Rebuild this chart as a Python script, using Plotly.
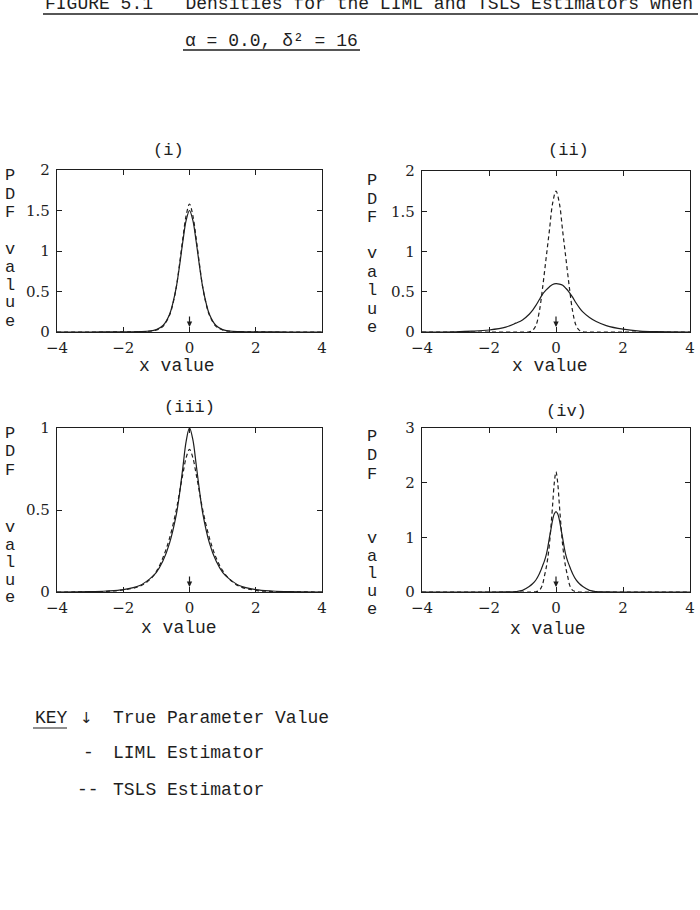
import plotly.graph_objects as go

# ---------------- data ----------------
true_value = 0.0

x_i = [-4, -3, -2, -1.5, -1.2, -1.0, -0.8, -0.6, -0.5, -0.4, -0.3, -0.2, -0.1, 0.0,
       0.1, 0.2, 0.3, 0.4, 0.5, 0.6, 0.8, 1.0, 1.2, 1.5, 2, 3, 4]
liml_i = [0, 0, 0.002, 0.005, 0.012, 0.03, 0.08, 0.22, 0.36, 0.55, 0.82, 1.12, 1.38, 1.50,
          1.38, 1.12, 0.82, 0.55, 0.36, 0.22, 0.08, 0.03, 0.012, 0.005, 0.002, 0, 0]
tsls_i = [0, 0, 0.001, 0.004, 0.01, 0.025, 0.07, 0.21, 0.35, 0.55, 0.84, 1.16, 1.44, 1.58,
          1.44, 1.16, 0.84, 0.55, 0.35, 0.21, 0.07, 0.025, 0.01, 0.004, 0.001, 0, 0]

x_ii = [-4, -3, -2.5, -2, -1.5, -1.2, -1.0, -0.8, -0.7, -0.6, -0.5, -0.4, -0.3, -0.2, -0.1, 0,
        0.1, 0.2, 0.3, 0.4, 0.5, 0.6, 0.7, 0.8, 1.0, 1.2, 1.5, 2, 2.5, 3, 4]
liml_ii = [0, 0.003, 0.01, 0.025, 0.06, 0.11, 0.15, 0.22, 0.27, 0.33, 0.40, 0.47, 0.52, 0.56, 0.59, 0.60,
           0.595, 0.58, 0.54, 0.49, 0.43, 0.36, 0.30, 0.25, 0.18, 0.13, 0.08, 0.035, 0.012, 0.004, 0]
tsls_ii = [0, 0, 0, 0, 0, 0, 0, 0.003, 0.02, 0.08, 0.25, 0.55, 0.9, 1.25, 1.6, 1.75,
           1.6, 1.25, 0.9, 0.55, 0.25, 0.08, 0.02, 0.003, 0, 0, 0, 0, 0, 0, 0]

x_iii = [-4, -3, -2.5, -2, -1.5, -1.2, -1.0, -0.8, -0.6, -0.4, -0.3, -0.2, -0.1, 0,
         0.1, 0.2, 0.3, 0.4, 0.6, 0.8, 1.0, 1.2, 1.5, 2, 2.5, 3, 4]
liml_iii = [0, 0.002, 0.006, 0.015, 0.04, 0.08, 0.12, 0.19, 0.30, 0.47, 0.60, 0.76, 0.92, 1.0,
            0.93, 0.78, 0.62, 0.48, 0.30, 0.19, 0.12, 0.08, 0.04, 0.015, 0.006, 0.002, 0]
tsls_iii = [0, 0.001, 0.004, 0.012, 0.035, 0.075, 0.125, 0.21, 0.33, 0.50, 0.61, 0.72, 0.82, 0.87,
            0.82, 0.72, 0.61, 0.50, 0.33, 0.21, 0.13, 0.08, 0.035, 0.01, 0.003, 0.001, 0]

x_iv = [-4, -2, -1.5, -1.2, -1.0, -0.8, -0.7, -0.6, -0.5, -0.45, -0.4, -0.35, -0.3, -0.25, -0.2,
        -0.15, -0.1, -0.05, 0, 0.05, 0.1, 0.15, 0.2, 0.25, 0.3, 0.35, 0.4, 0.45, 0.5, 0.6, 0.7,
        0.8, 1.0, 1.2, 1.5, 2, 4]
liml_iv = [0, 0, 0.002, 0.008, 0.03, 0.1, 0.15, 0.22, 0.33, 0.40, 0.48, 0.56, 0.66, 0.80, 0.98,
           1.15, 1.32, 1.43, 1.47, 1.43, 1.32, 1.15, 0.98, 0.80, 0.66, 0.56, 0.48, 0.40, 0.33, 0.22, 0.15,
           0.1, 0.03, 0.008, 0.002, 0, 0]
tsls_iv = [0, 0, 0, 0, 0, 0, 0, 0.005, 0.03, 0.07, 0.14, 0.28, 0.42, 0.6, 0.85,
           1.2, 1.6, 2.0, 2.2, 2.0, 1.6, 1.2, 0.85, 0.6, 0.42, 0.28, 0.14, 0.07, 0.03, 0.005, 0,
           0, 0, 0, 0, 0, 0]

x_ticks = [-4, -2, 0, 2, 4]
x_ticktext = ["\u22124", "\u22122", "0", "2", "4"]
yt_i = [0, 0.5, 1, 1.5, 2]
yt_i_text = ["0", "0.5", "1", "1.5", "2"]
yt_iii = [0, 0.5, 1]
yt_iii_text = ["0", "0.5", "1"]
yt_iv = [0, 1, 2, 3]
yt_iv_text = ["0", "1", "2", "3"]

panel_titles = ["(i)", "(ii)", "(iii)", "(iv)"]
ylabel_letters = ["P", "D", "F", "", "v", "a", "l", "u", "e"]
title_line1 = "FIGURE 5.1   Densities for the LIML and TSLS Estimators when"
title_line2 = "\u03b1 = 0.0, \u03b4\u00b2 = 16"
key_lines = ["True Parameter Value", "LIML Estimator", "TSLS Estimator"]

# ---------------- layout helpers ----------------
W, H = 700, 910
def fx(p): return p / W
def fy(p): return 1 - p / H

MONO = "Liberation Mono, Courier New, monospace"
SERIF = "DejaVu Serif, serif"
INK = "#1e1e1e"

panels = [
    dict(x=x_i, liml=liml_i, tsls=tsls_i, yt=yt_i, ytt=yt_i_text, ymax=2,
         px=(57, 322), py=(170, 332), title=(168, 151), xlab=(177, 366),
         ylab_x=10, ylab_y=[176, 194, 212, None, 249, 267, 285, 303, 321]),
    dict(x=x_ii, liml=liml_ii, tsls=tsls_ii, yt=yt_i, ytt=yt_i_text, ymax=2,
         px=(422, 690), py=(171, 332), title=(568, 151), xlab=(550, 366),
         ylab_x=372, ylab_y=[181, 199, 217, None, 253, 272, 290, 309, 327]),
    dict(x=x_iii, liml=liml_iii, tsls=tsls_iii, yt=yt_iii, ytt=yt_iii_text, ymax=1,
         px=(57, 322), py=(428, 592), title=(189, 408), xlab=(179, 628),
         ylab_x=10, ylab_y=[433, 451, 470, None, 527, 545, 562, 580, 597]),
    dict(x=x_iv, liml=liml_iv, tsls=tsls_iv, yt=yt_iv, ytt=yt_iv_text, ymax=3,
         px=(422, 690), py=(428, 592), title=(566, 412), xlab=(548, 629),
         ylab_x=372, ylab_y=[436, 455, 474, None, 538, 556, 573, 591, 609]),
]

fig = go.Figure()
annotations = []
shapes = []
layout = {}

for i, p in enumerate(panels):
    k = "" if i == 0 else str(i + 1)
    xa, ya = "x" + k, "y" + k
    fig.add_trace(go.Scatter(x=p["x"], y=p["liml"], mode="lines", xaxis=xa, yaxis=ya,
                             line=dict(color=INK, width=1.2), showlegend=False,
                             line_shape="spline"))
    fig.add_trace(go.Scatter(x=p["x"], y=p["tsls"], mode="lines", xaxis=xa, yaxis=ya,
                             line=dict(color=INK, width=1.2, dash="4px,3px"), showlegend=False,
                             line_shape="spline"))
    axis_common = dict(showline=True, mirror="ticks", linecolor=INK, linewidth=1.3,
                       ticks="inside", ticklen=5, tickwidth=1.2, tickcolor=INK,
                       showgrid=False, zeroline=False, fixedrange=True, automargin=False,
                       tickfont=dict(family=SERIF, size=15, color=INK))
    layout["xaxis" + k] = dict(axis_common, domain=[fx(p["px"][0]), fx(p["px"][1])],
                               range=[-4, 4], tickvals=x_ticks, ticktext=x_ticktext,
                               anchor=ya, ticklabelstandoff=2)
    layout["yaxis" + k] = dict(axis_common, domain=[fy(p["py"][1]), fy(p["py"][0])],
                               range=[0, p["ymax"]], tickvals=p["yt"], ticktext=p["ytt"],
                               anchor=xa, ticklabelstandoff=3)
    # true parameter arrow
    annotations.append(dict(x=true_value, y=0, xref=xa, yref=ya, text="", showarrow=True,
                            ax=0, ay=-17, arrowhead=2, arrowsize=0.9, arrowwidth=1.2,
                            arrowcolor=INK, standoff=5))
    # panel title
    annotations.append(dict(x=fx(p["title"][0]), y=fy(p["title"][1]), xref="paper", yref="paper",
                            text=panel_titles[i], showarrow=False, xanchor="center", yanchor="middle",
                            font=dict(family=MONO, size=17, color=INK)))
    # x label
    annotations.append(dict(x=fx(p["xlab"][0]), y=fy(p["xlab"][1]), xref="paper", yref="paper",
                            text="x value", showarrow=False, xanchor="center", yanchor="middle",
                            font=dict(family=MONO, size=18, color=INK)))
    # vertical y label
    for letter, ly in zip(ylabel_letters, p["ylab_y"]):
        if not letter:
            continue
        annotations.append(dict(x=fx(p["ylab_x"]), y=fy(ly), xref="paper", yref="paper",
                                text=letter, showarrow=False, xanchor="center", yanchor="middle",
                                font=dict(family=MONO, size=17, color=INK)))

# titles
annotations.append(dict(x=fx(43), y=fy(4), xref="paper", yref="paper", text=title_line1,
                        showarrow=False, xanchor="left", yanchor="middle",
                        font=dict(family=MONO, size=18, color=INK)))
shapes.append(dict(type="line", xref="paper", yref="paper", x0=fx(43), x1=fx(698),
                   y0=fy(14), y1=fy(14), line=dict(color=INK, width=1.3)))
annotations.append(dict(x=fx(183), y=fy(41), xref="paper", yref="paper", text=title_line2,
                        showarrow=False, xanchor="left", yanchor="middle",
                        font=dict(family=MONO, size=18, color=INK)))
shapes.append(dict(type="line", xref="paper", yref="paper", x0=fx(183), x1=fx(360),
                   y0=fy(50), y1=fy(50), line=dict(color=INK, width=1.3)))

# key
annotations.append(dict(x=fx(33), y=fy(718), xref="paper", yref="paper", text="KEY",
                        showarrow=False, xanchor="left", yanchor="middle",
                        font=dict(family=MONO, size=18, color=INK)))
shapes.append(dict(type="line", xref="paper", yref="paper", x0=fx(33), x1=fx(67),
                   y0=fy(728), y1=fy(728), line=dict(color=INK, width=1.2)))
annotations.append(dict(x=fx(86), y=fy(718), xref="paper", yref="paper", text="\u2193",
                        showarrow=False, xanchor="center", yanchor="middle",
                        font=dict(family="DejaVu Sans", size=15, color=INK)))
key_marks = ["", "-", "--"]
key_y = [718, 753, 790]
for mark, txt, ky in zip(key_marks, key_lines, key_y):
    if mark:
        annotations.append(dict(x=fx(88), y=fy(ky), xref="paper", yref="paper", text=mark,
                                showarrow=False, xanchor="center", yanchor="middle",
                                font=dict(family=MONO, size=18, color=INK)))
    annotations.append(dict(x=fx(111), y=fy(ky), xref="paper", yref="paper", text=txt,
                            showarrow=False, xanchor="left", yanchor="middle",
                            font=dict(family=MONO, size=18, color=INK)))

fig.update_layout(width=W, height=H,
                  margin=dict(l=0, r=0, t=0, b=0, pad=0, autoexpand=False),
                  paper_bgcolor="white", plot_bgcolor="white",
                  annotations=annotations, shapes=shapes, **layout)

fig.write_html("out.html")
